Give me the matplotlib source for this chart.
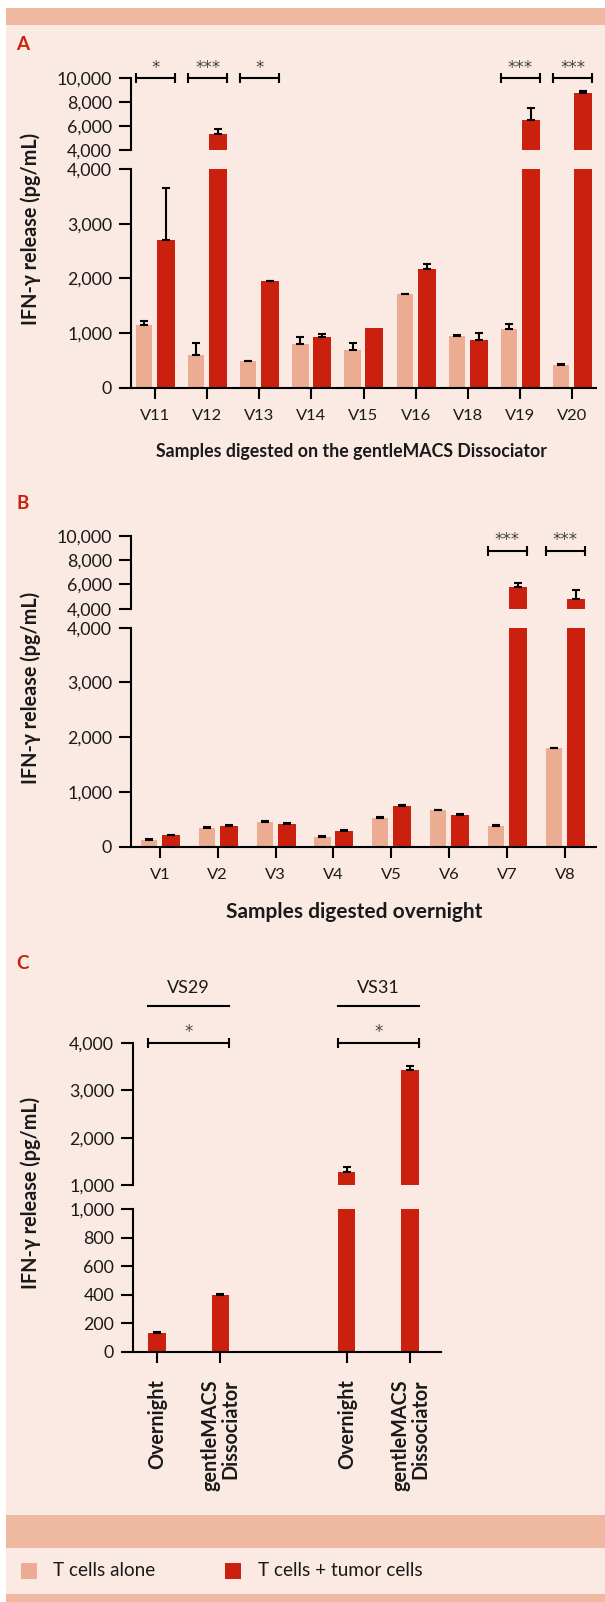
import numpy as np
import matplotlib
matplotlib.use('Agg')
import matplotlib.pyplot as plt
from matplotlib.patches import Rectangle
from matplotlib.ticker import StrMethodFormatter

# ---- data ----
a_samples = ['V11', 'V12', 'V13', 'V14', 'V15', 'V16', 'V18', 'V19', 'V20']
a_alone = [1150, 600, 490, 800, 690, 1710, 950, 1080, 420]
a_alone_err = [70, 225, 8, 120, 135, 5, 10, 85, 8]
a_tumor = [2700, 5350, 1950, 935, 1100, 2180, 880, 6550, 8800]
a_tumor_err = [950, 400, 10, 45, 0, 80, 120, 980, 140]
a_sig_idx = [0, 1, 2, 7, 8]
a_sig_text = ['*', '***', '*', '***', '***']

b_samples = ['V1', 'V2', 'V3', 'V4', 'V5', 'V6', 'V7', 'V8']
b_alone = [130, 350, 455, 180, 530, 665, 385, 1800]
b_alone_err = [8, 12, 8, 8, 8, 5, 8, 5]
b_tumor = [210, 385, 420, 285, 750, 580, 5750, 4800]
b_tumor_err = [12, 12, 10, 15, 10, 10, 400, 730]
b_sig_idx = [6, 7]
b_sig_text = ['***', '***']

c_labels = ['Overnight', 'gentleMACS\nDissociator', 'Overnight', 'gentleMACS\nDissociator']
c_pos = [0, 1, 3, 4]
c_tumor = [130, 400, 1280, 3420]
c_tumor_err = [8, 5, 100, 100]
c_groups = ['VS29', 'VS31']
c_sig_text = ['*', '*']

# ---- style ----
light = '#EBAC92'
red = '#CC200E'
bg = '#FBEAE3'
band = '#EFB8A0'

plt.rcParams['font.family'] = ['Lato', 'DejaVu Sans']
plt.rcParams['text.color'] = '#1a1a1a'
plt.rcParams['xtick.labelcolor'] = '#1a1a1a'
plt.rcParams['ytick.labelcolor'] = '#1a1a1a'

W, H = 605, 1602
fig = plt.figure(figsize=(W / 100, H / 100), dpi=100)
fig.patch.set_facecolor('white')


def fig_rect(left, top, right, bottom):
    return [left / W, 1 - bottom / H, (right - left) / W, (bottom - top) / H]


def add_bg(top, bottom, color):
    fig.add_artist(Rectangle((6 / W, 1 - bottom / H), (W - 6) / W, (bottom - top) / H,
                             transform=fig.transFigure, facecolor=color,
                             edgecolor='none', zorder=-10))


add_bg(8, 25, band)
add_bg(25, 1515, bg)
add_bg(1515, 1548, band)
add_bg(1548, 1594, bg)
add_bg(1594, 1602, band)

all_axes = []


def style(ax, bottom):
    ax.set_facecolor('none')
    ax.spines['top'].set_visible(False)
    ax.spines['right'].set_visible(False)
    ax.spines['left'].set_linewidth(1.5)
    ax.spines['bottom'].set_linewidth(1.5)
    ax.spines['bottom'].set_visible(bottom)
    ax.yaxis.set_major_formatter(StrMethodFormatter('{x:,.0f}'))
    ax.tick_params(axis='y', length=8.5, width=1.5, pad=5, labelsize=12.5)
    ax.tick_params(axis='x', length=8, width=1.5, pad=7, labelsize=13)
    if not bottom:
        ax.tick_params(axis='x', bottom=False, labelbottom=False)
    all_axes.append(ax)


def broken_axes(left, right, top, brk_hi, brk_lo, bottom, hi_lim, lo_lim, hi_ticks, lo_ticks, xlim):
    ax_hi = fig.add_axes(fig_rect(left, top, right, brk_hi))
    ax_lo = fig.add_axes(fig_rect(left, brk_lo, right, bottom))
    style(ax_hi, False)
    style(ax_lo, True)
    ax_hi.set_ylim(hi_lim)
    ax_lo.set_ylim(lo_lim)
    ax_hi.set_yticks(hi_ticks)
    ax_lo.set_yticks(lo_ticks)
    ax_hi.set_xlim(xlim)
    ax_lo.set_xlim(xlim)
    return ax_hi, ax_lo


def bars(axes, x, vals, errs, width, color):
    x = np.asarray(x, dtype=float)
    vals = np.asarray(vals, dtype=float)
    errs = np.asarray(errs, dtype=float)
    has_err = errs > 0
    for ax in axes:
        ax.bar(x, vals, width, color=color, zorder=2)
        ax.errorbar(x[has_err], vals[has_err], yerr=[np.zeros(has_err.sum()), errs[has_err]],
                    fmt='none', ecolor='black', elinewidth=1.5, capsize=3.2, capthick=1.5, zorder=3)


def bracket(ax, x0, x1, y, text, dy=4):
    ax.plot([x0, x1], [y, y], color='black', lw=1.5, marker='|', markersize=7,
            mew=1.5, clip_on=False, zorder=4)
    ax.annotate(text, ((x0 + x1) / 2, y), xytext=(0, dy), textcoords='offset points',
                ha='center', va='baseline', fontsize=12, color='#444444',
                family='DejaVu Sans', annotation_clip=False)


ylabels = []


def ylabel(y_center):
    t = fig.text(31 / W, 1 - y_center / H, 'IFN-\u03b3 release (pg/mL)', rotation=90,
                 ha='center', va='center', fontsize=12.5, fontweight='bold')
    ylabels.append(t)


def panel_letter(letter, y_center):
    fig.text(23 / W, 1 - y_center / H, letter, ha='center', va='center',
             fontsize=13.5, fontweight='bold', color=red)


# ---- panel A ----
xa = np.arange(len(a_samples))
a_hi, a_lo = broken_axes(131, 596, 78.3, 150, 169.3, 387.7, (4000, 10000), (0, 4000),
                         [4000, 6000, 8000, 10000], [0, 1000, 2000, 3000, 4000], (-0.46, 8.46))
bars([a_hi, a_lo], xa - 0.21, a_alone, a_alone_err, 0.31, light)
bars([a_hi, a_lo], xa + 0.21, a_tumor, a_tumor_err, 0.345, red)
a_lo.set_xticks(xa)
a_lo.set_xticklabels(a_samples)
for i, t in zip(a_sig_idx, a_sig_text):
    bracket(a_hi, i - 0.36, i + 0.38, 10000, t)
panel_letter('A', 45)
ylabel(229)
a_xlab = fig.text(352 / W, 1 - 452 / H, 'Samples digested on the gentleMACS Dissociator',
                  ha='center', va='center', fontsize=12.8, fontweight='bold')

# ---- panel B ----
xb = np.arange(len(b_samples))
b_hi, b_lo = broken_axes(131, 596, 535.7, 608.7, 627.7, 846.7, (4000, 10000), (0, 4000),
                         [4000, 6000, 8000, 10000], [0, 1000, 2000, 3000, 4000], (-0.5, 7.54))
bars([b_hi, b_lo], xb - 0.19, b_alone, b_alone_err, 0.28, light)
bars([b_hi, b_lo], xb + 0.19, b_tumor, b_tumor_err, 0.31, red)
b_lo.set_xticks(xb)
b_lo.set_xticklabels(b_samples)
for i, t in zip(b_sig_idx, b_sig_text):
    bracket(b_hi, i - 0.33, i + 0.345, 8750, t)
panel_letter('B', 503.5)
ylabel(687.5)
b_xlab = fig.text(354.5 / W, 1 - 912 / H, 'Samples digested overnight',
                  ha='center', va='center', fontsize=13.8, fontweight='bold')

# ---- panel C ----
c_hi, c_lo = broken_axes(133, 441, 1042.7, 1185.3, 1209.3, 1351.7, (1000, 4000), (0, 1000),
                         [1000, 2000, 3000, 4000], [0, 200, 400, 600, 800, 1000], (-0.38, 4.49))
bars([c_hi, c_lo], c_pos, c_tumor, c_tumor_err, 0.27, red)
c_lo.set_xticks(c_pos)
c_lo.set_xticklabels(c_labels)
c_lo.tick_params(axis='x', pad=12)
for lab in c_lo.get_xticklabels():
    lab.set_rotation(90)
    lab.set_fontsize(16)
    lab.set_fontweight('bold')
    lab.set_linespacing(1.0)
    lab.set_multialignment('right')
for g in range(len(c_groups)):
    x0 = c_pos[2 * g] - 0.135
    x1 = c_pos[2 * g + 1] + 0.135
    bracket(c_hi, x0, x1, 4000, c_sig_text[g])
    c_hi.plot([x0, x1], [4773, 4773], color='black', lw=1.5, clip_on=False)
    c_hi.annotate(c_groups[g], ((x0 + x1) / 2, 4773), xytext=(0, 9.5), textcoords='offset points',
                  ha='center', va='baseline', fontsize=13, annotation_clip=False)
panel_letter('C', 963.5)
ylabel(1192.5)

# ---- legend ----
fig.add_artist(Rectangle((21 / W, 1 - 1579 / H), 16 / W, 16 / H, transform=fig.transFigure,
                         facecolor=light, edgecolor='none'))
leg1 = fig.text(53 / W, 1 - 1571 / H, 'T cells alone', ha='left', va='center', fontsize=14)
fig.add_artist(Rectangle((225 / W, 1 - 1579 / H), 16 / W, 16 / H, transform=fig.transFigure,
                         facecolor=red, edgecolor='none'))
leg2 = fig.text(258 / W, 1 - 1571 / H, 'T cells + tumor cells', ha='left', va='center', fontsize=14)

# ---- size the text to the widths measured on the reference (pixels) ----
fig.canvas.draw()
renderer = fig.canvas.get_renderer()


def fitted(artist, target, vertical=False):
    bb = artist.get_window_extent(renderer)
    return artist.get_fontsize() * target / (bb.height if vertical else bb.width)


ytick_size = fitted([t for t in a_hi.get_yticklabels() if t.get_text() == '10,000'][0], 55)
xtick_size = fitted(a_lo.get_xticklabels()[0], 30)
for ax in all_axes:
    ax.tick_params(axis='y', labelsize=ytick_size)
    if ax in (a_lo, b_lo):
        ax.tick_params(axis='x', labelsize=xtick_size)
c_size = fitted(c_lo.get_xticklabels()[0], 90, vertical=True)
for lab in c_lo.get_xticklabels():
    lab.set_fontsize(c_size)
ylab_size = fitted(ylabels[0], 192, vertical=True)
for t in ylabels:
    t.set_fontsize(ylab_size)
a_xlab.set_fontsize(fitted(a_xlab, 390))
b_xlab.set_fontsize(fitted(b_xlab, 255))
leg_size = fitted(leg1, 102)
leg1.set_fontsize(leg_size)
leg2.set_fontsize(leg_size)

fig.savefig('out.png', dpi=100, facecolor=fig.get_facecolor())
